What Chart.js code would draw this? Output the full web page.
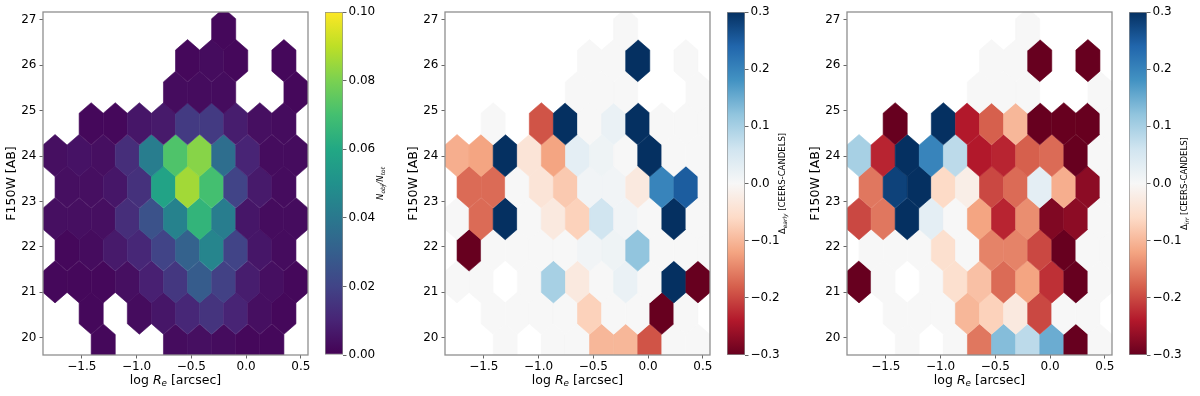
<!DOCTYPE html>
<html>
<head>
<meta charset="utf-8">
<script src="https://cdn.jsdelivr.net/npm/chart.js@4.4.1/dist/chart.umd.min.js"></script>
<style>
  body { margin: 0; background: #fff; }
  .panel { position: absolute; top: 0; height: 396px; }
  .panel canvas { position: absolute; left: 0; top: 0; }
</style>
</head>
<body>
<div class="panel" style="left:0;width:400px"><canvas id="main0" width="400" height="396"></canvas><canvas id="cbar0" width="400" height="396"></canvas></div>
<div class="panel" style="left:402px;width:400px"><canvas id="main1" width="400" height="396"></canvas><canvas id="cbar1" width="400" height="396"></canvas></div>
<div class="panel" style="left:804px;width:396px"><canvas id="main2" width="396" height="396"></canvas><canvas id="cbar2" width="396" height="396"></canvas></div>
<script>
// hex bin centres (log Re) for column index k = 0..21
const logReBins = [-1.745, -1.635, -1.525, -1.415, -1.305, -1.195, -1.085, -0.975, -0.865, -0.755, -0.645,
                   -0.535, -0.425, -0.315, -0.205, -0.095, 0.015, 0.125, 0.235, 0.345, 0.455, 0.565];
// hex row centres (F150W mag), row m = 0..10
const magRows = [19.84, 20.54, 21.23, 21.93, 22.62, 23.32, 24.01, 24.71, 25.40, 26.10, 26.79];

const xTicks = [-1.5, -1.0, -0.5, 0.0, 0.5];
const yTicks = [20, 21, 22, 23, 24, 25, 26, 27];
const fracTicks = [0, 0.02, 0.04, 0.06, 0.08, 0.10];
const deltaTicks = [-0.3, -0.2, -0.1, 0, 0.1, 0.2, 0.3];

// each row lists the hexes of that row: column k = 2*j + (m % 2)
const fracObs = [
  [null, null, 0.002, null, null, 0.003, 0.004, 0.003, 0.002, 0.002, null],
  [null, 0.002, null, 0.003, 0.006, 0.011, 0.015, 0.010, 0.004, 0.002, null],
  [0.002, 0.002, 0.002, 0.004, 0.009, 0.016, 0.029, 0.019, 0.008, 0.004, 0.002],
  [0.002, 0.003, 0.007, 0.011, 0.020, 0.031, 0.045, 0.020, 0.006, 0.003, null],
  [0.004, 0.004, 0.004, 0.013, 0.025, 0.044, 0.065, 0.042, 0.006, 0.003, 0.003],
  [0.004, 0.004, 0.006, 0.014, 0.058, 0.086, 0.070, 0.020, 0.007, 0.003, null],
  [0.004, 0.005, 0.004, 0.013, 0.042, 0.072, 0.082, 0.036, 0.010, 0.003, 0.003],
  [null, 0.002, 0.002, 0.006, 0.007, 0.017, 0.017, 0.008, 0.004, 0.003, null],
  [null, null, null, null, null, 0.003, 0.003, 0.003, null, null, 0.002],
  [null, null, null, null, null, 0.002, 0.003, 0.002, null, 0.002, null],
  [null, null, null, null, null, null, null, 0.002, null, null, null]
];
const deltaEarly = [
  [null, null, 0, null, 0, 0, -0.10, -0.10, -0.19, 0, 0],
  [null, 0, 0, 0, 0, -0.07, 0, 0, -0.3, 0, null],
  [0, 0, null, 0, 0.10, -0.03, 0, 0.02, 0, 0.3, -0.3],
  [-0.3, 0, 0, 0, 0, 0.01, 0.015, 0.12, 0, 0, 0],
  [0, -0.17, 0.3, 0, -0.03, -0.07, 0.06, 0.01, 0, 0.3, 0],
  [-0.17, -0.17, 0, -0.04, -0.08, 0.01, 0.01, -0.03, 0.2, 0.25, 0],
  [-0.11, -0.12, 0.3, -0.04, -0.12, 0.03, 0.015, 0, 0.3, 0, 0],
  [null, 0, null, -0.19, 0.3, 0, 0.02, 0.3, 0, 0, 0],
  [null, null, null, null, null, 0, 0, 0, null, null, 0],
  [null, null, null, null, null, 0, 0, 0.3, null, 0, null],
  [null, null, null, null, null, null, null, 0, null, null, null]
];
const deltaIrr = [
  [null, null, 0, null, 0, -0.16, 0.13, 0.08, 0.15, -0.3, 0],
  [null, 0, 0, 0, -0.10, -0.07, -0.03, -0.20, 0, 0, null],
  [-0.3, 0, null, 0, -0.05, -0.09, -0.17, -0.12, -0.22, -0.3, 0],
  [0, 0, 0, -0.05, 0, -0.15, -0.15, -0.20, -0.3, 0, 0],
  [-0.20, -0.16, 0.3, 0.03, 0, -0.12, -0.23, -0.14, -0.28, -0.27, 0],
  [-0.16, 0.28, 0.3, -0.06, -0.02, -0.20, -0.17, 0.03, -0.11, -0.27, 0],
  [0.10, -0.23, 0.3, 0.20, 0.08, -0.24, -0.23, -0.18, -0.17, -0.3, 0],
  [null, -0.3, null, 0.3, -0.24, -0.18, -0.10, -0.3, -0.3, -0.3, 0],
  [null, null, null, null, null, 0, 0, 0, null, null, 0],
  [null, null, null, null, null, 0, 0, -0.3, null, -0.3, null],
  [null, null, null, null, null, null, null, 0, null, null, null]
];

const viridis = ['#440154', '#482475', '#414487', '#355f8d', '#2a788e', '#21918c',
                 '#22a884', '#44bf70', '#7ad151', '#bddf26', '#fde725'];
const rdbu = ['#67001f', '#b2182b', '#d6604d', '#f4a582', '#fddbc7', '#f7f7f7',
              '#d1e5f0', '#92c5de', '#4393c3', '#2166ac', '#053061'];

const HEX_W = 0.22;        // hex width in log Re
const ROW_STEP = 0.695;    // vertical distance between hex rows (mag)
const FONT = "'DejaVu Sans'";
Chart.defaults.font.family = FONT;
Chart.defaults.color = '#000';

function hexToRgb(h) {
  return [parseInt(h.slice(1, 3), 16), parseInt(h.slice(3, 5), 16), parseInt(h.slice(5, 7), 16)];
}
function cmapColor(stops, t) {
  t = Math.max(0, Math.min(1, t));
  const n = stops.length - 1;
  const i = Math.min(Math.floor(t * n), n - 1);
  const f = t * n - i;
  const a = hexToRgb(stops[i]), b = hexToRgb(stops[i + 1]);
  const c = a.map((v, q) => Math.round(v + (b[q] - v) * f));
  return `rgb(${c[0]},${c[1]},${c[2]})`;
}

function toPoints(grid) {
  const pts = [];
  grid.forEach((row, m) => {
    row.forEach((v, j) => {
      if (v === null) return;
      const k = 2 * j + (m % 2);
      pts.push({ x: logReBins[k], y: magRows[m], v: v });
    });
  });
  return pts;
}

function fmtNum(v, d) {
  const s = Math.abs(v).toFixed(d);
  return (v < -1e-9 ? '\u2212' : '') + s;
}

// text with italic / subscript parts, centred at (x, y)
function drawRich(ctx, parts, x, y, size) {
  const fontOf = p => `${p.it ? 'italic ' : ''}${p.sub ? size * 0.7 : size}px ${FONT}`;
  let total = 0;
  const widths = parts.map(p => { ctx.font = fontOf(p); const w = ctx.measureText(p.t).width; total += w; return w; });
  let cx = x - total / 2;
  ctx.textAlign = 'left';
  ctx.textBaseline = 'middle';
  ctx.fillStyle = '#000';
  parts.forEach((p, i) => {
    ctx.font = fontOf(p);
    ctx.fillText(p.t, cx, y + (p.sub ? size * 0.25 : 0));
    cx += widths[i];
  });
}

const xLabel = [{ t: 'log ' }, { t: 'R', it: 1 }, { t: 'e', it: 1, sub: 1 }, { t: ' [arcsec]' }];
const yLabel = [{ t: 'F150W [AB]' }];

const hexPlugin = {
  id: 'hexbins',
  beforeDatasetsDraw(chart, args, opts) {
    const { ctx, chartArea: a, scales: { x, y } } = chart;
    ctx.save();
    ctx.beginPath();
    ctx.rect(a.left, a.top, a.right - a.left, a.bottom - a.top);
    ctx.clip();
    const h = ROW_STEP / 3;
    chart.data.datasets[0].data.forEach(p => {
      const verts = [[p.x + HEX_W / 2, p.y - h], [p.x + HEX_W / 2, p.y + h], [p.x, p.y + 2 * h],
                     [p.x - HEX_W / 2, p.y + h], [p.x - HEX_W / 2, p.y - h], [p.x, p.y - 2 * h]];
      const col = cmapColor(opts.cmap, (p.v - opts.min) / (opts.max - opts.min));
      ctx.beginPath();
      verts.forEach((vt, i) => {
        const px = x.getPixelForValue(vt[0]), py = y.getPixelForValue(vt[1]);
        if (i === 0) ctx.moveTo(px, py); else ctx.lineTo(px, py);
      });
      ctx.closePath();
      ctx.fillStyle = col;
      ctx.strokeStyle = col;
      ctx.lineWidth = 0.6;
      ctx.fill();
      ctx.stroke();
    });
    ctx.restore();
  },
  afterDraw(chart) {
    const { ctx, chartArea: a } = chart;
    ctx.save();
    ctx.strokeStyle = '#8f8f8f';
    ctx.lineWidth = 1.3;
    ctx.strokeRect(a.left, a.top, a.right - a.left, a.bottom - a.top);
    drawRich(ctx, xLabel, (a.left + a.right) / 2, 381, 12.5);
    ctx.translate(12, (a.top + a.bottom) / 2);
    ctx.rotate(-Math.PI / 2);
    drawRich(ctx, yLabel, 0, 0, 12.5);
    ctx.restore();
  }
};

function makeMain(id, grid, cmap, min, max) {
  const canvas = document.getElementById(id);
  const W = canvas.width;
  new Chart(canvas, {
    type: 'scatter',
    data: { datasets: [{ data: toPoints(grid), pointRadius: 0, pointHoverRadius: 0 }] },
    options: {
      responsive: false, animation: false, events: [],
      layout: { padding: { left: 0, top: 12, right: W - 308, bottom: 0 } },
      plugins: { legend: { display: false }, tooltip: { enabled: false }, hexbins: { cmap, min, max } },
      scales: {
        x: {
          type: 'linear', min: -1.855, max: 0.565,
          afterBuildTicks: s => { s.ticks = xTicks.map(v => ({ value: v })); },
          afterFit: s => { s.height = 41; },
          ticks: { callback: v => fmtNum(v, 1), font: { size: 12 }, color: '#000', padding: 1, maxRotation: 0, autoSkip: false },
          grid: { drawOnChartArea: false, drawTicks: true, tickLength: 3.5, color: '#666' },
          border: { display: false }
        },
        y: {
          type: 'linear', min: 19.62, max: 27.17,
          afterBuildTicks: s => { s.ticks = yTicks.map(v => ({ value: v })); },
          afterFit: s => { s.width = 43; },
          ticks: { callback: v => v.toFixed(0), font: { size: 12 }, color: '#000', padding: 3, autoSkip: false },
          grid: { drawOnChartArea: false, drawTicks: true, tickLength: 3.5, color: '#666' },
          border: { display: false }
        }
      }
    },
    plugins: [hexPlugin]
  });
}

const cbLabelPlugin = {
  id: 'cblabel',
  afterDraw(chart, args, opts) {
    const { ctx, chartArea: a } = chart;
    ctx.save();
    ctx.translate(381, (a.top + a.bottom) / 2);
    ctx.rotate(-Math.PI / 2);
    drawRich(ctx, opts.parts, 0, 0, 8.5);
    ctx.restore();
  }
};

function makeBar(id, cmap, min, max, ticks, digits, labelParts) {
  const canvas = document.getElementById(id);
  const W = canvas.width;
  new Chart(canvas, {
    type: 'bar',
    data: {
      labels: [''],
      datasets: [{
        data: [[min, max]],
        backgroundColor: c => {
          const a = c.chart.chartArea;
          if (!a) return cmap[0];
          const g = c.chart.ctx.createLinearGradient(0, a.bottom, 0, a.top);
          cmap.forEach((col, i) => g.addColorStop(i / (cmap.length - 1), col));
          return g;
        },
        borderColor: '#8f8f8f', borderWidth: 1, borderSkipped: false,
        barPercentage: 1, categoryPercentage: 1
      }]
    },
    options: {
      responsive: false, animation: false, events: [],
      layout: { padding: { left: 325, top: 12, right: 0, bottom: 41 } },
      plugins: { legend: { display: false }, tooltip: { enabled: false }, cblabel: { parts: labelParts } },
      scales: {
        x: { display: false },
        y: {
          position: 'right', min: min, max: max,
          afterBuildTicks: s => { s.ticks = ticks.map(v => ({ value: v })); },
          afterFit: s => { s.width = W - 343; },
          ticks: { callback: v => fmtNum(v, digits), font: { size: 12 }, color: '#000', padding: 2, autoSkip: false },
          grid: { drawOnChartArea: false, drawTicks: true, tickLength: 3.5, color: '#666' },
          border: { display: false }
        }
      }
    },
    plugins: [cbLabelPlugin]
  });
}

makeMain('main0', fracObs, viridis, 0, 0.1);
makeMain('main1', deltaEarly, rdbu, -0.3, 0.3);
makeMain('main2', deltaIrr, rdbu, -0.3, 0.3);

makeBar('cbar0', viridis, 0, 0.1, fracTicks, 2,
  [{ t: 'N', it: 1 }, { t: 'obj', it: 1, sub: 1 }, { t: '/', it: 1 }, { t: 'N', it: 1 }, { t: 'tot', it: 1, sub: 1 }]);
makeBar('cbar1', rdbu, -0.3, 0.3, deltaTicks, 1,
  [{ t: '\u0394' }, { t: 'early', it: 1, sub: 1 }, { t: ' [CEERS-CANDELS]' }]);
makeBar('cbar2', rdbu, -0.3, 0.3, deltaTicks, 1,
  [{ t: '\u0394' }, { t: 'irr', it: 1, sub: 1 }, { t: ' [CEERS-CANDELS]' }]);
</script>
</body>
</html>
